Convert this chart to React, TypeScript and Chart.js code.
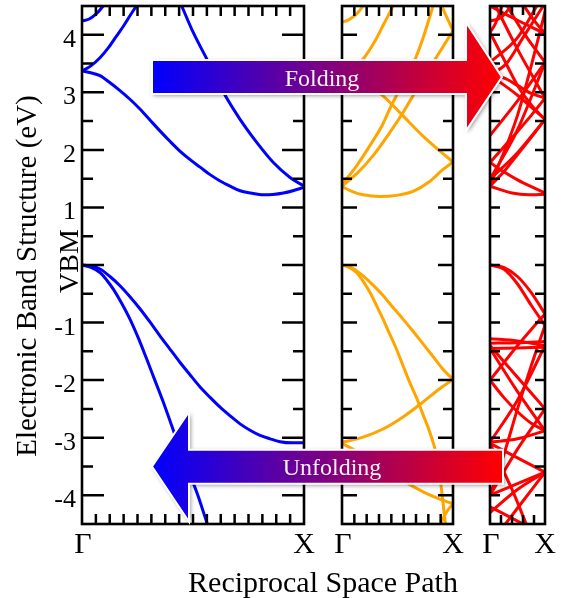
import React, { useEffect, useRef } from 'react';
import { Chart, registerables } from 'chart.js';

Chart.register(...registerables);

type Pt = [number, number];

// ---------------- axis / label data ----------------
const Y_MIN = -4.5;
const Y_MAX = 4.5;
const yMajorTicks = [-4, -3, -2, -1, 0, 1, 2, 3, 4];
const yMinorTicks = [-4, -3, -2, -1, 0, 1, 2, 3, 4, 5].map((v) => v - 0.5).filter((v) => v > Y_MIN && v < Y_MAX);
const yTickLabels = ['-4', '-3', '-2', '-1', 'VBM', '1', '2', '3', '4'];
const kPointLabels = ['Γ', 'X'];
const yAxisTitle = 'Electronic Band Structure (eV)';
const xAxisTitle = 'Reciprocal Space Path';
const foldLabel = 'Folding';
const unfoldLabel = 'Unfolding';

// ---------------- panel 1 (primitive cell, blue) ----------------
const blueA: Pt[] = [[0, 4.24], [0.03, 4.27], [0.06, 4.35], [0.095, 4.5], [0.13, 4.72]];
const blueB: Pt[] = [[0, 3.37], [0.04, 3.46], [0.081, 3.6], [0.12, 3.78], [0.156, 3.98], [0.19, 4.17], [0.216, 4.33], [0.246, 4.51], [0.28, 4.74]];
const blueC: Pt[] = [[0, 3.37], [0.04, 3.34], [0.081, 3.29], [0.125, 3.17], [0.171, 3.03], [0.216, 2.88], [0.261, 2.71], [0.306, 2.52], [0.351, 2.33], [0.396, 2.15], [0.441, 1.98], [0.487, 1.83], [0.532, 1.7], [0.577, 1.57], [0.622, 1.46], [0.667, 1.37], [0.712, 1.29], [0.76, 1.25], [0.817, 1.22], [0.86, 1.225], [0.907, 1.25], [0.95, 1.29], [1.0, 1.35]];
const blueD: Pt[] = [[0.42, 4.75], [0.449, 4.5], [0.501, 4.04], [0.562, 3.58], [0.637, 3.0], [0.712, 2.53], [0.787, 2.13], [0.862, 1.78], [0.937, 1.52], [1.0, 1.37]];
const blueE: Pt[] = [[0, 0], [0.04, -0.02], [0.081, -0.07], [0.126, -0.2], [0.171, -0.36], [0.216, -0.55], [0.261, -0.76], [0.306, -0.99], [0.351, -1.23], [0.396, -1.46], [0.441, -1.69], [0.487, -1.91], [0.532, -2.12], [0.577, -2.3], [0.622, -2.47], [0.667, -2.62], [0.712, -2.76], [0.757, -2.87], [0.802, -2.96], [0.847, -3.02], [0.892, -3.07], [0.946, -3.09], [1.0, -3.09]];
const blueF: Pt[] = [[0, 0], [0.04, -0.04], [0.081, -0.13], [0.111, -0.26], [0.141, -0.42], [0.178, -0.66], [0.216, -0.94], [0.254, -1.27], [0.291, -1.63], [0.328, -2.0], [0.366, -2.38], [0.403, -2.78], [0.441, -3.19], [0.479, -3.57], [0.517, -3.95], [0.562, -4.47], [0.59, -4.8]];

// ---------------- panel 2 (2x supercell, orange) ----------------
const orangeA: Pt[] = [[0, 4.22], [0.05, 4.25], [0.1, 4.31], [0.15, 4.4], [0.19, 4.5], [0.24, 4.65]];
const orangeB: Pt[] = [[0, 3.37], [0.1, 3.43], [0.19, 3.58], [0.3, 3.9], [0.38, 4.2], [0.46, 4.5], [0.52, 4.75]];
const orangeC1: Pt[] = [[0, 3.37], [0.1, 3.3], [0.2, 3.18], [0.37, 2.94], [0.55, 2.59], [0.73, 2.24], [0.87, 2.0], [1.0, 1.79]];
const orangeC2: Pt[] = [[0, 1.36], [0.1, 1.27], [0.19, 1.22], [0.34, 1.19], [0.49, 1.21], [0.64, 1.28], [0.79, 1.45], [0.91, 1.66], [1.0, 1.79]];
const orangeD1: Pt[] = [[0, 1.4], [0.13, 1.72], [0.25, 2.07], [0.36, 2.42], [0.43, 2.71], [0.49, 2.94], [0.58, 3.25], [0.66, 3.58], [0.74, 4.0], [0.82, 4.5], [0.86, 4.75]];
const orangeD2: Pt[] = [[0, 1.37], [0.14, 1.6], [0.28, 1.9], [0.43, 2.3], [0.55, 2.65], [0.64, 2.94], [0.75, 3.3], [0.88, 3.7], [1.0, 4.07]];
const orangeD3: Pt[] = [[0.86, 4.75], [0.9, 4.5], [0.95, 4.28], [1.0, 4.07]];
const orangeE1: Pt[] = [[0, 0], [0.05, -0.02], [0.1, -0.06], [0.19, -0.19], [0.28, -0.35], [0.37, -0.53], [0.46, -0.74], [0.55, -0.94], [0.64, -1.15], [0.73, -1.37], [0.82, -1.59], [0.91, -1.81], [1.0, -1.99]];
const orangeF1: Pt[] = [[0, 0], [0.05, -0.03], [0.13, -0.13], [0.19, -0.28], [0.25, -0.47], [0.31, -0.7], [0.37, -0.94], [0.43, -1.2], [0.49, -1.46], [0.55, -1.75], [0.61, -2.04], [0.67, -2.3], [0.73, -2.6], [0.79, -2.9], [0.85, -3.3], [0.89, -3.8], [0.92, -4.3], [0.94, -4.65]];
const orangeF2: Pt[] = [[0, -3.1], [0.1, -3.2], [0.19, -3.31], [0.37, -3.51], [0.55, -3.75], [0.74, -3.95], [0.87, -4.06], [1.0, -4.15]];
const orangeF3: Pt[] = [[0.86, -4.7], [0.9, -4.45], [0.95, -4.27], [1.0, -4.15]];
const orangeE2: Pt[] = [[0, -3.08], [0.19, -2.99], [0.37, -2.85], [0.55, -2.64], [0.73, -2.38], [0.88, -2.15], [1.0, -1.99]];

// ---------------- panel 3 (4x supercell, red) ----------------
const redQ1: Pt[] = [[0, 4.24], [0.2, 4.3], [0.38, 4.5], [0.5, 4.7]];
const redQ2: Pt[] = [[0, 3.3], [0.3, 3.5], [0.6, 3.95], [0.9, 4.4], [1.0, 4.55]];
const redQ3: Pt[] = [[0, 3.3], [0.25, 3.25], [0.5, 3.12], [0.75, 2.98], [1, 2.9]];
const redQ4: Pt[] = [[0, 1.78], [0.25, 2.05], [0.5, 2.32], [0.75, 2.6], [1, 2.9]];
const redQ5: Pt[] = [[0, 1.78], [0.25, 1.62], [0.5, 1.48], [0.75, 1.36], [1, 1.25]];
const redQ6: Pt[] = [[0, 1.37], [0.4, 1.25], [0.7, 1.22], [1, 1.23]];
const redQ7: Pt[] = [[0, 4.04], [0.1, 4.2], [0.2, 4.45], [0.3, 4.8]];
const redQ8: Pt[] = [[0, 4.04], [0.25, 3.58], [0.5, 3.12], [0.75, 2.78], [1, 2.53]];
const redQ9: Pt[] = [[0, 1.37], [0.25, 1.62], [0.5, 1.92], [0.75, 2.22], [1, 2.53]];
const redQ10: Pt[] = [[0, 2.25], [0.5, 2.85], [1, 3.52]];
const redQ11: Pt[] = [[0, 3.52], [0.5, 3.95], [0.85, 4.5], [1, 4.75]];
const redQ12: Pt[] = [[0.25, 4.6], [0.6, 4.05], [1, 3.52]];
const redQ13: Pt[] = [[0, 4.5], [0.4, 4.3], [1, 4.02]];
const redQ14: Pt[] = [[0, 1.49], [0.5, 2.35], [1, 3.52]];
const redQ15: Pt[] = [[0, 1.49], [0.5, 1.95], [1, 2.53]];
const redQ16: Pt[] = [[0, 3.3], [0.5, 2.95], [1, 2.53]];
const redQ17: Pt[] = [[0.05, 4.6], [0.5, 3.75], [1, 2.9]];
const redQ18: Pt[] = [[0, 1.37], [0.5, 2.6], [0.9, 4.02], [1, 4.4]];
const redQ19: Pt[] = [[0.55, 4.6], [0.8, 4.25], [1, 4.02]];
const redR1: Pt[] = [[0, 0], [0.25, -0.04], [0.5, -0.2], [0.75, -0.48], [1, -0.85]];
const redR2: Pt[] = [[0, 0], [0.25, -0.07], [0.5, -0.33], [0.75, -0.7], [1, -1.05]];
const redR3: Pt[] = [[0, -2.0], [0.25, -1.7], [0.5, -1.4], [0.75, -1.12], [1, -0.85]];
const redR4: Pt[] = [[0, -4.0], [0.25, -3.3], [0.5, -2.5], [0.75, -1.75], [1, -1.05]];
const redR5: Pt[] = [[0, -2.0], [0.25, -2.3], [0.5, -2.55], [0.75, -2.75], [1, -2.88]];
const redR6: Pt[] = [[0, -3.08], [0.5, -3.02], [1, -2.88]];
const redR7: Pt[] = [[0, -3.1], [0.5, -3.35], [1, -3.6]];
const redR8: Pt[] = [[0, -4.0], [0.5, -3.8], [1, -3.6]];
const redR9: Pt[] = [[0, -1.28], [0.5, -1.32], [1, -1.4]];
const redR10: Pt[] = [[0, -1.36], [0.5, -1.35], [1, -1.33]];
const redR11: Pt[] = [[0, -1.45], [0.5, -1.44], [1, -1.43]];
const redR12: Pt[] = [[0, -1.4], [0.5, -1.95], [1, -2.5]];
const redR13: Pt[] = [[0, -4.2], [0.5, -4.45], [1, -4.7]];
const redR14: Pt[] = [[0, -3.1], [0.4, -3.9], [0.7, -4.6]];
const redR15: Pt[] = [[0, -1.45], [0.5, -2.2], [1, -2.88]];
const redR16: Pt[] = [[0, -3.08], [0.5, -2.35], [1, -1.4]];
const redR17: Pt[] = [[0, -4.0], [0.5, -3.2], [1, -2.5]];
const redR18: Pt[] = [[0, -4.3], [0.5, -3.9], [1, -3.6]];
const redR19: Pt[] = [[0.2, -4.6], [0.6, -4.1], [1, -3.6]];

const blueBands = [blueA, blueB, blueC, blueD, blueE, blueF];
const orangeBands = [orangeA, orangeB, orangeC1, orangeC2, orangeD1, orangeD2, orangeD3, orangeE1, orangeF1, orangeF2, orangeF3, orangeE2];
const redBands = [redQ1, redQ2, redQ3, redQ4, redQ5, redQ6, redQ7, redQ8, redQ9, redQ10, redQ11, redQ12, redQ13, redQ14, redQ15, redQ16, redQ17, redQ18, redQ19,
  redR1, redR2, redR3, redR4, redR5, redR6, redR7, redR8, redR9, redR10, redR11, redR12, redR13, redR14, redR15, redR16, redR17, redR18, redR19];

// ---------------- layout (pixels) ----------------
const W = 566;
const H = 598;
const PLOT_TOP = 6;
const PLOT_BOTTOM = 524;
const FONT = '"Liberation Serif", "Times New Roman", serif';

type Panel = {
  left: number; right: number; color: string; bands: Pt[][];
  xIntervals: number; majorLen: number; minorLen: number; xTickLen: number;
};

const panels: Panel[] = [
  { left: 82, right: 304, color: '#0000ff', bands: blueBands, xIntervals: 16, majorLen: 22, minorLen: 11, xTickLen: 10 },
  { left: 342, right: 453, color: '#ffa500', bands: orangeBands, xIntervals: 9, majorLen: 15, minorLen: 10, xTickLen: 10 },
  { left: 490, right: 545, color: '#ff0000', bands: redBands, xIntervals: 5, majorLen: 10, minorLen: 10, xTickLen: 9 },
];

// arrows: x in pixels, y in data units (eV)
const foldArrow = { x0: 152, xHead: 466, xTip: 502, bodyTop: 3.56, bodyBot: 2.97, headTop: 4.22, headBot: 2.33, tipY: 3.265 };
const unfoldArrow = { xTip: 152, xHead: 189, x1: 503, bodyTop: -3.21, bodyBot: -3.8, headTop: -2.55, headBot: -4.46, tipY: -3.5 };

function drawArrowShape(ctx: CanvasRenderingContext2D, pts: number[][], gx0: number, gx1: number) {
  ctx.save();
  ctx.beginPath();
  pts.forEach((p, i) => (i ? ctx.lineTo(p[0], p[1]) : ctx.moveTo(p[0], p[1])));
  ctx.closePath();
  const g = ctx.createLinearGradient(gx0, 0, gx1, 0);
  g.addColorStop(0, '#0000ff');
  g.addColorStop(1, '#ff0000');
  ctx.shadowColor = 'rgba(0,0,0,0.45)';
  ctx.shadowBlur = 4;
  ctx.shadowOffsetX = 1.5;
  ctx.shadowOffsetY = 1.5;
  ctx.fillStyle = g;
  ctx.fill();
  ctx.shadowColor = 'rgba(0,0,0,0)';
  ctx.lineJoin = 'miter';
  ctx.lineWidth = 2;
  ctx.strokeStyle = '#ffffff';
  ctx.stroke();
  ctx.restore();
}

function drawArrows(chart: any) {
  const ctx: CanvasRenderingContext2D = chart.ctx;
  const ys = chart.scales.y;
  const Y = (v: number) => ys.getPixelForValue(v);
  const f = foldArrow;
  drawArrowShape(ctx, [
    [f.x0, Y(f.bodyTop)], [f.xHead, Y(f.bodyTop)], [f.xHead, Y(f.headTop)], [f.xTip, Y(f.tipY)],
    [f.xHead, Y(f.headBot)], [f.xHead, Y(f.bodyBot)], [f.x0, Y(f.bodyBot)],
  ], f.x0, f.xTip);
  const u = unfoldArrow;
  drawArrowShape(ctx, [
    [u.xTip, Y(u.tipY)], [u.xHead, Y(u.headTop)], [u.xHead, Y(u.bodyTop)], [u.x1, Y(u.bodyTop)],
    [u.x1, Y(u.bodyBot)], [u.xHead, Y(u.bodyBot)], [u.xHead, Y(u.headBot)],
  ], u.xTip, u.x1);
  ctx.save();
  ctx.fillStyle = '#f8f2f8';
  ctx.font = `24px ${FONT}`;
  ctx.textAlign = 'center';
  ctx.textBaseline = 'alphabetic';
  ctx.fillText(foldLabel, 322, Y(f.tipY) + 9);
  ctx.fillText(unfoldLabel, 332, Y(u.tipY) + 9);
  ctx.restore();
}

function decorPlugin(p: Panel, idx: number) {
  return {
    id: 'decor' + idx,
    afterDatasetsDraw(chart: any) {
      const ctx: CanvasRenderingContext2D = chart.ctx;
      const a = chart.chartArea;
      const ys = chart.scales.y;
      const xs = chart.scales.x;
      ctx.save();
      ctx.strokeStyle = '#000';
      ctx.lineWidth = 2.5;
      ctx.lineCap = 'butt';
      ctx.beginPath();
      const tick = (v: number, len: number) => {
        const py = ys.getPixelForValue(v);
        ctx.moveTo(a.left, py);
        ctx.lineTo(a.left + len, py);
        ctx.moveTo(a.right, py);
        ctx.lineTo(a.right - len, py);
      };
      yMajorTicks.forEach((v) => tick(v, p.majorLen));
      yMinorTicks.forEach((v) => tick(v, p.minorLen));
      for (let i = 1; i < p.xIntervals; i++) {
        const px = xs.getPixelForValue(i / p.xIntervals);
        ctx.moveTo(px, a.top);
        ctx.lineTo(px, a.top + p.xTickLen);
        ctx.moveTo(px, a.bottom);
        ctx.lineTo(px, a.bottom - p.xTickLen);
      }
      ctx.stroke();
      ctx.lineWidth = 2.6;
      ctx.strokeRect(a.left, a.top, a.right - a.left, a.bottom - a.top);

      ctx.fillStyle = '#000';
      ctx.font = `30px ${FONT}`;
      ctx.textAlign = 'center';
      ctx.textBaseline = 'alphabetic';
      ctx.fillText(kPointLabels[0], xs.getPixelForValue(0) + 1, 553);
      ctx.fillText(kPointLabels[1], xs.getPixelForValue(1), 553);

      if (idx === 0) {
        ctx.font = `26px ${FONT}`;
        ctx.textAlign = 'right';
        yMajorTicks.forEach((v, i) => {
          if (v === 0) return;
          ctx.fillText(yTickLabels[i], 76, ys.getPixelForValue(v) + 12);
        });
        ctx.save();
        ctx.translate(78, ys.getPixelForValue(0) - 4);
        ctx.rotate(-Math.PI / 2);
        ctx.font = `28px ${FONT}`;
        ctx.textAlign = 'center';
        ctx.fillText(yTickLabels[yMajorTicks.indexOf(0)], 0, 0);
        ctx.restore();
        ctx.save();
        ctx.translate(36, 276);
        ctx.rotate(-Math.PI / 2);
        ctx.font = `29px ${FONT}`;
        ctx.textAlign = 'center';
        ctx.fillText(yAxisTitle, 0, 0);
        ctx.restore();
        ctx.font = `30px ${FONT}`;
        ctx.textAlign = 'center';
        ctx.fillText(xAxisTitle, 323, 592);
      }
      ctx.restore();
    },
    afterDraw(chart: any) {
      if (idx === panels.length - 1) drawArrows(chart);
    },
  };
}

function makeChart(canvas: HTMLCanvasElement, p: Panel, idx: number) {
  return new Chart(canvas, {
    type: 'line',
    data: {
      datasets: p.bands.map((b) => ({
        data: b.map(([x, y]) => ({ x, y })),
        borderColor: p.color,
        backgroundColor: p.color,
        borderWidth: 3,
        pointRadius: 0,
        fill: false,
        cubicInterpolationMode: 'monotone' as const,
        borderCapStyle: 'round' as const,
        borderJoinStyle: 'round' as const,
      })),
    },
    options: {
      responsive: false,
      animation: false,
      devicePixelRatio: 1,
      events: [],
      layout: { padding: { left: p.left, right: W - p.right, top: PLOT_TOP, bottom: H - PLOT_BOTTOM } },
      plugins: { legend: { display: false }, tooltip: { enabled: false }, title: { display: false } },
      scales: {
        x: { type: 'linear', min: 0, max: 1, display: false },
        y: { type: 'linear', min: Y_MIN, max: Y_MAX, display: false },
      },
    },
    plugins: [decorPlugin(p, idx)],
  } as any);
}

export default function App() {
  const c1 = useRef<HTMLCanvasElement>(null);
  const c2 = useRef<HTMLCanvasElement>(null);
  const c3 = useRef<HTMLCanvasElement>(null);
  useEffect(() => {
    const refs = [c1, c2, c3];
    const charts = panels.map((p, i) => makeChart(refs[i].current as HTMLCanvasElement, p, i));
    return () => charts.forEach((c) => c.destroy());
  }, []);
  const cs: React.CSSProperties = { position: 'absolute', left: 0, top: 0, width: W, height: H };
  return (
    <div style={{ position: 'fixed', left: 0, top: 0, width: W, height: H, background: '#fff' }}>
      <canvas ref={c1} width={W} height={H} style={cs} />
      <canvas ref={c2} width={W} height={H} style={cs} />
      <canvas ref={c3} width={W} height={H} style={cs} />
    </div>
  );
}
